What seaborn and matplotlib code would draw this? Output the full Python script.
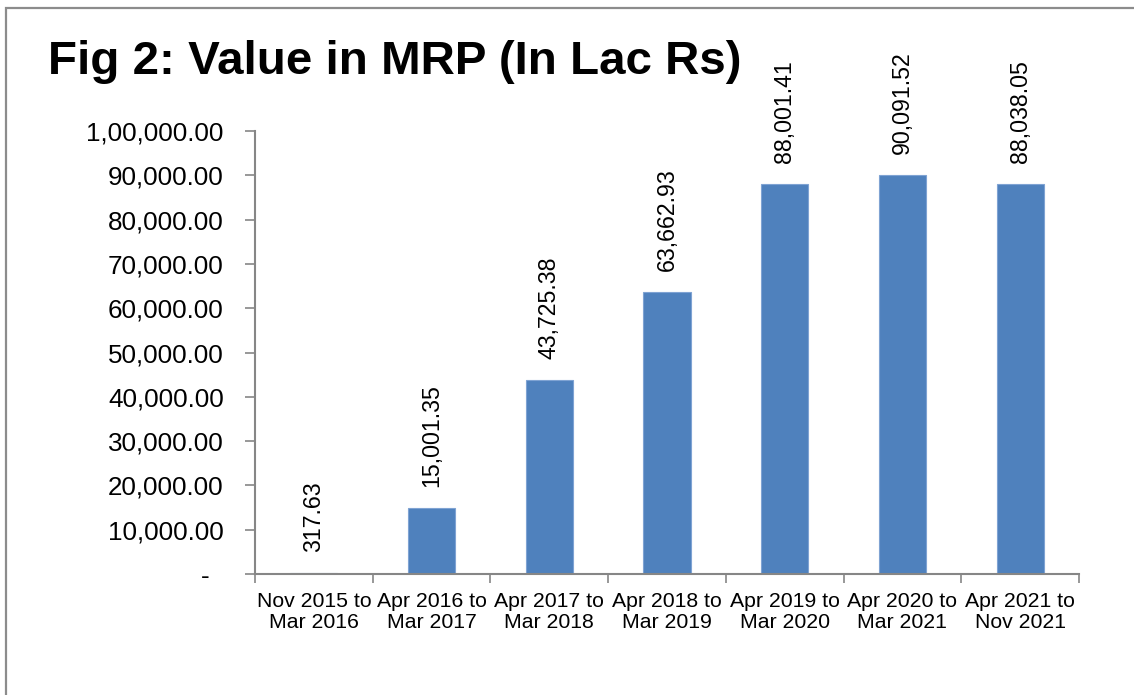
import matplotlib
matplotlib.use("Agg")
import matplotlib.pyplot as plt
import matplotlib.ticker as mticker
from matplotlib.patches import Rectangle
import seaborn as sns
import pandas as pd
import numpy as np

categories = ["Nov 2015 to\nMar 2016", "Apr 2016 to\nMar 2017", "Apr 2017 to\nMar 2018",
              "Apr 2018 to\nMar 2019", "Apr 2019 to\nMar 2020", "Apr 2020 to\nMar 2021",
              "Apr 2021 to\nNov 2021"]
values = [317.63, 15001.35, 43725.38, 63662.93, 88001.41, 90091.52, 88038.05]
title = "Fig 2: Value in MRP (In Lac Rs)"

sns.set_theme(style="white")
plt.rcParams['font.family'] = ['Liberation Sans', 'DejaVu Sans']

def indian(v, pos=None):
    if abs(v) < 1e-9:
        return "-  "
    s = f"{v:.2f}"
    ip, dp = s.split(".")
    if len(ip) > 3:
        last3 = ip[-3:]
        rest = ip[:-3]
        groups = []
        while len(rest) > 2:
            groups.insert(0, rest[-2:])
            rest = rest[:-2]
        if rest:
            groups.insert(0, rest)
        ip = ",".join(groups) + "," + last3
    return ip + "." + dp

df = pd.DataFrame({"cat": categories, "val": values})

fig = plt.figure(figsize=(11.34, 6.95), dpi=100)
ax = fig.add_axes([0.2249, 0.1741, 0.7266, 0.6374])

sns.barplot(data=df, x="cat", y="val", color="#4F81BD", saturation=1, width=0.4,
            edgecolor="#7FA3D3", linewidth=0.8, ax=ax)

ax.set_xlim(-0.5, len(categories) - 0.5)
ax.set_ylim(0, 100000)
ax.set_xlabel("")
ax.set_ylabel("")

ax.yaxis.set_major_locator(mticker.MultipleLocator(10000))
ax.yaxis.set_major_formatter(mticker.FuncFormatter(indian))
ax.tick_params(axis="y", which="major", length=7.5, width=1.2, color="#868686",
               labelsize=18.7, pad=15, left=True, labelcolor="black")

ax.set_xticks(range(len(categories)))
ax.set_xticklabels(categories, fontsize=15.3, linespacing=1.1)
ax.set_xticks(np.arange(-0.5, len(categories), 1.0), minor=True)
ax.tick_params(axis="x", which="major", length=0, pad=13, labelcolor="black")
ax.tick_params(axis="x", which="minor", length=6.5, width=1.2, color="#868686", bottom=True)

for side in ["top", "right"]:
    ax.spines[side].set_visible(False)
for side in ["left", "bottom"]:
    ax.spines[side].set_color("#868686")
    ax.spines[side].set_linewidth(1.5)

for i, v in enumerate(values):
    ax.annotate(indian(v), xy=(i, v), xytext=(0, 15), textcoords="offset points",
                rotation=90, ha="center", va="bottom", fontsize=16.7, color="black",
                annotation_clip=False)

fig.text(48 / 1134, 1 - 62 / 695, title, fontsize=34.2, fontweight="bold",
         ha="left", va="center", color="black")

fig.patches.append(Rectangle((6 / 1134, -0.1), 1.2, 0.1 + (1 - 8 / 695),
                             transform=fig.transFigure, fill=False,
                             edgecolor="#8C8C8C", linewidth=1.6))

fig.savefig("out.png", dpi=100)
